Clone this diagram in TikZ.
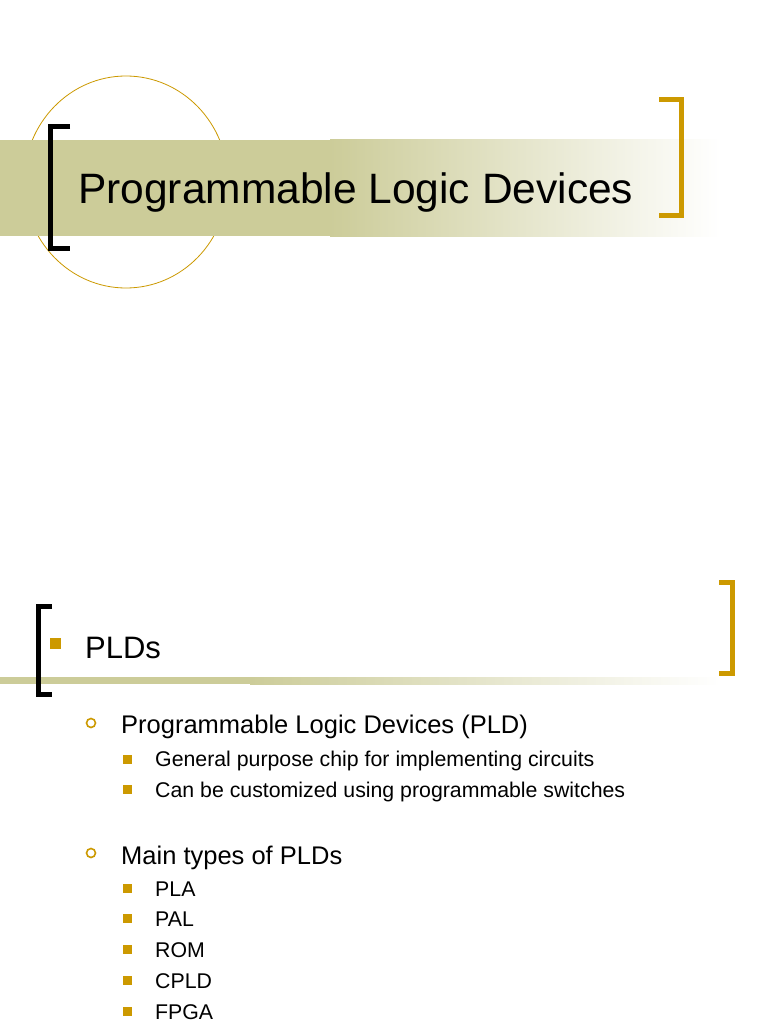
\documentclass[tikz,border=0pt]{standalone}
\usepackage{fontspec}
\setmainfont{Liberation Sans}
\definecolor{olive}{RGB}{204,204,153}
\definecolor{gold}{RGB}{204,153,0}
\begin{document}
\begin{tikzpicture}[x=1pt,y=-1pt,
  txt/.style={anchor=base west,inner sep=0pt,text=black},
  sqb/.style={fill=gold},
  circb/.style={draw=gold,line width=1.6pt}]
\useasboundingbox (0,0) rectangle (768,1024);
\fill[white] (0,0) rectangle (768,1024);
% slide 1
\draw[gold,line width=0.8pt] (126,182) ellipse [x radius=102,y radius=106];
\fill[olive] (0,140) rectangle (332,236);
\shade[left color=olive,right color=white] (330,140) rectangle (720,236);
\draw[black,line width=5pt] (70,127) -- (50.5,127) -- (50.5,248) -- (70,248);
\draw[gold,line width=5pt] (659,100) -- (681.5,100) -- (681.5,216) -- (659,216);
\node[txt,font=\fontsize{42.5}{48}\selectfont] (title) at (78,204) {Programmable Logic Devices};
% slide 2
\fill[olive] (0,677) rectangle (252,684);
\shade[left color=olive,right color=white] (250,677) rectangle (720,684);
\draw[black,line width=5pt] (52,606) -- (38.5,606) -- (38.5,694) -- (52,694);
\draw[gold,line width=5pt] (719,582) -- (732.5,582) -- (732.5,673) -- (719,673);
\fill[sqb] (50,638) rectangle (61,649);
\node[txt,font=\fontsize{31}{34}\selectfont] (plds) at (85,658) {PLDs};
\draw[circb] (91,723) circle (4.5);
\node[txt,font=\fontsize{25.5}{28}\selectfont] (pld) at (121,733) {Programmable Logic Devices (PLD)};
\fill[sqb] (123,755) rectangle (132,764);
\node[txt,font=\fontsize{21.3}{23}\selectfont] (g1) at (155,766) {General purpose chip for implementing circuits};
\fill[sqb] (123,785) rectangle (132,794);
\node[txt,font=\fontsize{21.3}{23}\selectfont] (g2) at (155,797) {Can be customized using programmable switches};
\draw[circb] (91,853) circle (4.5);
\node[txt,font=\fontsize{25.5}{28}\selectfont] (main) at (121,864) {Main types of PLDs};
\foreach \y/\t/\n in {889/PLA/t1,919/PAL/t2,950/ROM/t3,981/CPLD/t4,1012/FPGA/t5}{
  \fill[sqb] (123,\y-5) rectangle (132,\y+4);
  \node[txt,font=\fontsize{21.3}{23}\selectfont] (\n) at (155,\y+7) {\t};
}
\end{tikzpicture}
\end{document}
